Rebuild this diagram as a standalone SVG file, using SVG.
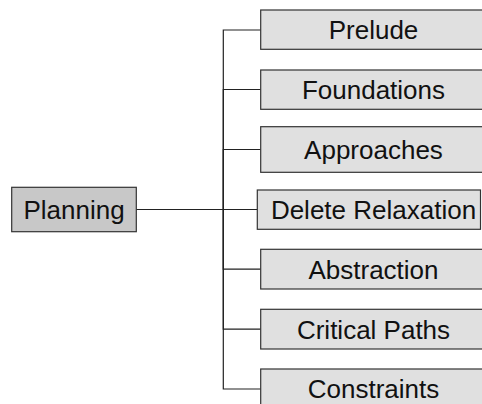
<svg xmlns="http://www.w3.org/2000/svg" width="482" height="404" viewBox="0 0 482 404">
<style>
.child rect{fill:#e0e0e0;stroke:#333;stroke-width:1.2}
.root rect{fill:#c8c8c8;stroke:#333;stroke-width:1.2}
text{font-family:"Liberation Sans",Arial,sans-serif;font-size:26px;fill:#111;text-anchor:middle}
.edges path{fill:none;stroke:#222;stroke-width:1.2}
</style>
<rect width="482" height="404" fill="#fff"/>
<g class="edges" id="connectors">
<path d="M136.3,209.5H223.3V30H260.7"/>
<path d="M136.3,209.5H223.3V89.5H260.7"/>
<path d="M136.3,209.5H223.3V149.5H260.7"/>
<path d="M136.3,209.5H257.3"/>
<path d="M136.3,209.5H223.3V269.2H260.7"/>
<path d="M136.3,209.5H223.3V329.2H260.7"/>
<path d="M136.3,209.5H223.3V389H260.7"/>
</g>
<g id="planning" class="root"><rect x="11.7" y="187.3" width="124.6" height="44.4"/><text x="74" y="219">Planning</text></g>
<g id="prelude" class="child"><rect x="260.7" y="10" width="226" height="39.3"/><text x="373.5" y="39">Prelude</text></g>
<g id="foundations" class="child"><rect x="260.7" y="70" width="226" height="39.3"/><text x="373.5" y="99">Foundations</text></g>
<g id="approaches" class="child"><rect x="260.7" y="126.7" width="226" height="45.6"/><text x="373.5" y="159">Approaches</text></g>
<g id="delete-relaxation" class="child"><rect x="257.3" y="190" width="223.2" height="39.3"/><text x="373.5" y="219">Delete Relaxation</text></g>
<g id="abstraction" class="child"><rect x="260.7" y="249.3" width="226" height="39.7"/><text x="373.5" y="278.5">Abstraction</text></g>
<g id="critical-paths" class="child"><rect x="260.7" y="309.3" width="226" height="39.7"/><text x="373.5" y="338.5">Critical Paths</text></g>
<g id="constraints" class="child"><rect x="260.7" y="369" width="226" height="42"/><text x="373.5" y="398">Constraints</text></g>
</svg>
